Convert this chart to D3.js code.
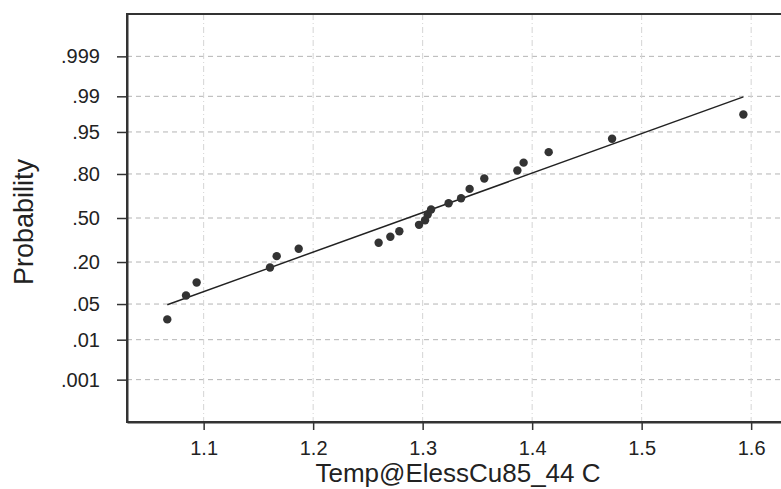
<!DOCTYPE html>
<html>
<head>
<meta charset="utf-8">
<script src="https://cdn.jsdelivr.net/npm/d3@7"></script>
<style>
    body { margin: 0; background: #fff; }
    .axis path, .axis line { stroke: #333; }
    .axis text { font-family: Arial, "Liberation Sans", sans-serif; font-size: 20px; fill: #222; }
    .axis-label { font-family: Arial, "Liberation Sans", sans-serif; fill: #222; }
</style>
</head>
<body>
<div id="chart"></div>
<script>
// observed temperatures and their plotting probabilities
const temps = [1.0668, 1.0839, 1.0936, 1.1606, 1.1667, 1.1868, 1.2598, 1.2705, 1.2787, 1.2967, 1.3022,
    1.3046, 1.3077, 1.3237, 1.3351, 1.3429, 1.3563, 1.3865, 1.3922, 1.4151, 1.4730, 1.5929];
const probs = [0.0263, 0.0694, 0.109, 0.172, 0.233, 0.278, 0.318, 0.360, 0.400, 0.448, 0.483,
    0.527, 0.564, 0.611, 0.647, 0.711, 0.775, 0.818, 0.855, 0.896, 0.935, 0.976];

// fitted normal line, ends
const fitTemps = [1.0668, 1.5929];
const fitProbs = [0.0487, 0.9897];

const yTickProbs = [0.999, 0.99, 0.95, 0.80, 0.50, 0.20, 0.05, 0.01, 0.001];
const yTickLabels = ['.999', '.99', '.95', '.80', '.50', '.20', '.05', '.01', '.001'];
const xTicks = [1.1, 1.2, 1.3, 1.4, 1.5, 1.6];

const width = 781;
const height = 489;
const margin = {top: 14, right: -3, bottom: 67, left: 127};
const chartWidth = width - margin.left - margin.right;
const chartHeight = height - margin.top - margin.bottom;

// inverse standard normal cdf (Acklam)
function probit(p) {
    const a = [-3.969683028665376e+01, 2.209460984245205e+02, -2.759285104469687e+02,
        1.383577518672690e+02, -3.066479806614716e+01, 2.506628277459239e+00];
    const b = [-5.447609879822406e+01, 1.615858368580409e+02, -1.556989798598866e+02,
        6.680131188771972e+01, -1.328068155288572e+01];
    const c = [-7.784894002430293e-03, -3.223964580411365e-01, -2.400758277161838e+00,
        -2.549732539343734e+00, 4.374664141464968e+00, 2.938163982698783e+00];
    const d = [7.784695709041462e-03, 3.224671290700398e-01, 2.445134137142996e+00,
        3.754408661907416e+00];
    const pLow = 0.02425;
    let q, r;
    if (p < pLow) {
        q = Math.sqrt(-2 * Math.log(p));
        return (((((c[0]*q+c[1])*q+c[2])*q+c[3])*q+c[4])*q+c[5]) /
            ((((d[0]*q+d[1])*q+d[2])*q+d[3])*q+1);
    }
    if (p > 1 - pLow) {
        q = Math.sqrt(-2 * Math.log(1 - p));
        return -(((((c[0]*q+c[1])*q+c[2])*q+c[3])*q+c[4])*q+c[5]) /
            ((((d[0]*q+d[1])*q+d[2])*q+d[3])*q+1);
    }
    q = p - 0.5;
    r = q * q;
    return (((((a[0]*r+a[1])*r+a[2])*r+a[3])*r+a[4])*r+a[5])*q /
        (((((b[0]*r+b[1])*r+b[2])*r+b[3])*r+b[4])*r+1);
}

const xScale = d3.scaleLinear()
    .domain([1.03, 1.63])
    .range([0, chartWidth]);

const zScale = d3.scaleLinear()
    .domain([-3.9, 3.9])
    .range([chartHeight, 0]);

const yScale = p => zScale(probit(p));

const svg = d3.select('#chart')
  .append('svg')
    .attr('width', width)
    .attr('height', height);

const g = svg.append('g')
    .attr('transform', `translate(${margin.left},${margin.top})`);

// grid
g.append('g')
    .selectAll('line')
    .data(yTickProbs)
    .join('line')
    .attr('x1', 0)
    .attr('x2', chartWidth)
    .attr('y1', d => yScale(d))
    .attr('y2', d => yScale(d))
    .attr('stroke', '#b4b4b4')
    .attr('stroke-width', 1)
    .attr('stroke-dasharray', '5,4');

g.append('g')
    .selectAll('line')
    .data(xTicks)
    .join('line')
    .attr('x1', d => xScale(d))
    .attr('x2', d => xScale(d))
    .attr('y1', 0)
    .attr('y2', chartHeight)
    .attr('stroke', '#d4d4d4')
    .attr('stroke-width', 1)
    .attr('stroke-dasharray', '6,3,1,3');

// frame
g.append('rect')
    .attr('width', chartWidth)
    .attr('height', chartHeight)
    .attr('fill', 'none')
    .attr('stroke', '#333')
    .attr('stroke-width', 2);

// axes
const xAxis = d3.axisBottom(xScale)
    .tickValues(xTicks)
    .tickFormat(d3.format('.1f'))
    .tickSizeInner(8)
    .tickSizeOuter(0)
    .tickPadding(11);

const yAxis = d3.axisLeft(zScale)
    .tickValues(yTickProbs.map(probit))
    .tickFormat((d, i) => yTickLabels[i])
    .tickSizeInner(10)
    .tickSizeOuter(0)
    .tickPadding(17);

g.append('g')
    .attr('class', 'x axis')
    .attr('transform', `translate(0,${chartHeight})`)
    .call(xAxis)
    .call(a => a.select('.domain').attr('stroke-width', 2))
    .call(a => a.selectAll('.tick line').attr('stroke-width', 1.5));

g.append('g')
    .attr('class', 'y axis')
    .call(yAxis)
    .call(a => a.select('.domain').attr('stroke-width', 2))
    .call(a => a.selectAll('.tick line').attr('stroke-width', 1.5));

// fit line
const fitData = fitTemps.map((t, i) => [t, fitProbs[i]]);
g.append('path')
    .datum(fitData)
    .attr('fill', 'none')
    .attr('stroke', '#222')
    .attr('stroke-width', 1.5)
    .attr('d', d3.line().x(d => xScale(d[0])).y(d => yScale(d[1])));

// points
g.append('g')
    .selectAll('circle')
    .data(temps.map((t, i) => [t, probs[i]]))
    .join('circle')
    .attr('cx', d => xScale(d[0]))
    .attr('cy', d => yScale(d[1]))
    .attr('r', 4.2)
    .attr('fill', '#333');

// axis titles
svg.append('text')
    .attr('class', 'axis-label')
    .attr('x', 458)
    .attr('y', 482)
    .attr('text-anchor', 'middle')
    .style('font-size', '26px')
    .text('Temp@ElessCu85_44 C');

svg.append('text')
    .attr('class', 'axis-label')
    .attr('transform', 'translate(33,222) rotate(-90)')
    .attr('text-anchor', 'middle')
    .style('font-size', '27px')
    .text('Probability');
</script>
</body>
</html>
